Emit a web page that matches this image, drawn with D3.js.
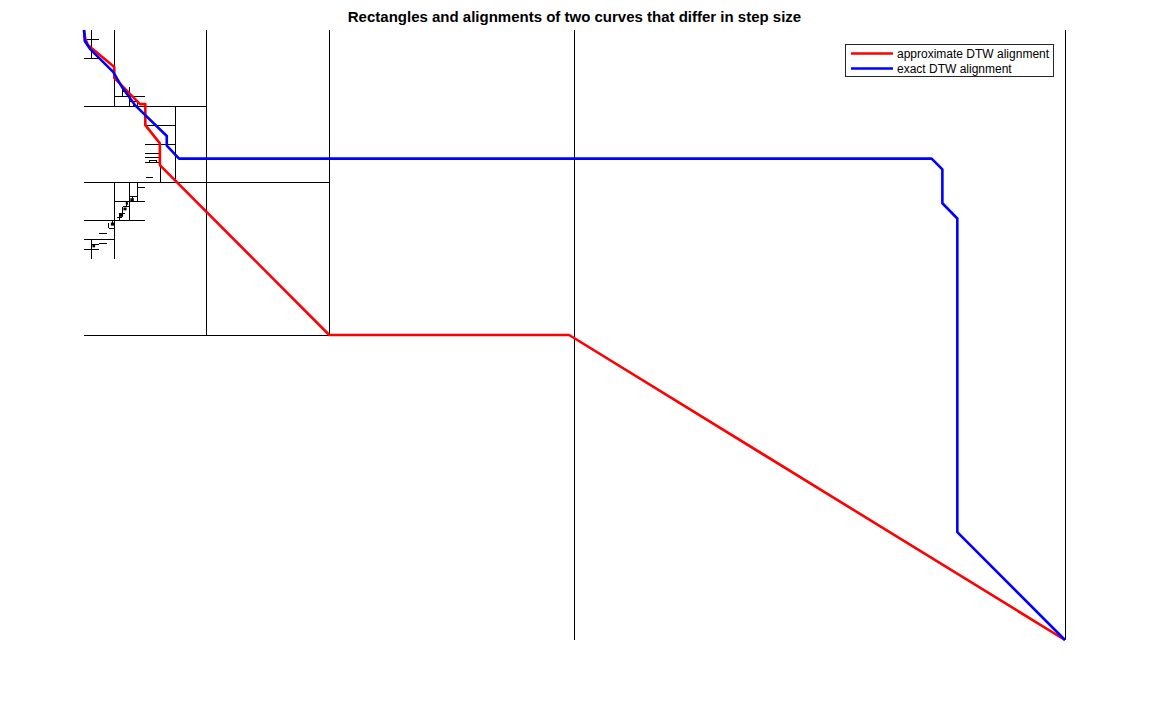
<!DOCTYPE html>
<html>
<head>
<meta charset="utf-8">
<script src="https://cdn.jsdelivr.net/npm/d3@7"></script>
<style>
  html, body { margin: 0; padding: 0; background: #fff; }
  svg { display: block; }
</style>
</head>
<body>
<script>
// ---- data (grid units; y grows downward like the reference) ----
const gridSize = [256, 256];

// approximate DTW alignment path
const approxX = [0, 0.3, 1, 7.9, 7.9, 14.6, 16, 16, 19.8, 19.8, 64, 126.6, 256];
const approxY = [0, 3.4, 6.3, 15.5, 20.1, 31.1, 31.1, 39.9, 47.6, 56.7, 128, 128, 256];

// exact DTW alignment path
const exactX = [0, 0.2, 1.6, 7.6, 9.9, 13.3, 21.6, 21.6, 24.8, 221.2, 224, 224, 227.9, 227.9, 256];
const exactY = [0, 4.6, 8.0, 17.6, 23.9, 31.5, 44.5, 48.5, 54.0, 54.0, 58.5, 72.7, 79.1, 210.7, 256];

// rectangle edges: [x1, y1, x2, y2]
const rectEdges = [
  [128, 0, 128, 256], [256, 0, 256, 256],
  [64, 0, 64, 128], [0, 128, 64, 128],
  [32, 0, 32, 128], [0, 64, 64, 64],
  [0, 32, 32, 32], [24, 32, 24, 64],
  [8, 0, 8, 32], [2, 0, 2, 12], [0, 4, 4, 4], [0, 12, 4, 12],
  [8, 28, 16, 28], [10, 24, 10, 28], [10, 26, 12, 26], [12, 24, 12, 32],
  [12, 30, 14, 30], [13, 30, 13, 32], [14, 30, 14, 32],
  [16, 40, 24, 40], [16, 48, 24, 48], [20, 48, 20, 64],
  [16, 52, 20, 52], [16, 53.6, 20, 53.6],
  [17.2, 54.6, 19, 54.6], [17.2, 54.6, 17.2, 55.6], [19, 54.6, 19, 55.6],
  [16, 55.6, 20, 55.6], [16.2, 62, 18, 62],
  [8, 64, 8, 96], [12, 64, 12, 80], [14, 64, 14, 72], [14, 66, 16, 66],
  [8, 72, 16, 72], [12, 70, 14, 70], [12.7, 70, 12.7, 72],
  [0, 80, 16, 80],
  [9.2, 76.9, 9.2, 80], [10.1, 74.1, 10.1, 76.9], [11.2, 72, 11.2, 74.1],
  [10.1, 74.1, 12, 74.1], [9.2, 76.9, 10.8, 76.9], [8.6, 78.8, 9.8, 78.8],
  [6.5, 81, 6.5, 83], [6.6, 83.2, 8, 83.2], [7.5, 80, 7.5, 82],
  [4, 85.3, 6, 85.3], [4, 89.8, 6, 89.8],
  [0, 88, 8, 88], [2, 88, 2, 96], [2, 90, 4, 90], [0, 92, 4, 92]
];

// tiny filled cells: [x, y, w, h]
const cells = [
  [12.1, 70.6, 0.9, 1.2], [10.3, 74.5, 0.8, 1.2], [9.4, 77.2, 0.8, 1.2],
  [7.0, 80.8, 0.9, 1.3], [2.2, 90.2, 0.7, 1.0], [10.9, 72.3, 0.6, 1.0]
];

const titleText = "Rectangles and alignments of two curves that differ in step size";
const seriesNames = ["approximate DTW alignment", "exact DTW alignment"];
const seriesColors = ["#ff0000", "#0000ff"];

// ---- drawing ----
const W = 1150, H = 702;
const svg = d3.select("body").append("svg").attr("width", W).attr("height", H);

const x = d3.scaleLinear().domain([0, gridSize[0]]).range([84, 1065]);
const y = d3.scaleLinear().domain([0, gridSize[1]]).range([30, 640]);

// rectangles
svg.append("g")
  .selectAll("line")
  .data(rectEdges)
  .join("line")
  .attr("x1", d => x(d[0])).attr("y1", d => y(d[1]))
  .attr("x2", d => x(d[2])).attr("y2", d => y(d[3]))
  .attr("stroke", "#000").attr("stroke-width", 1)
  .attr("shape-rendering", "crispEdges");

svg.append("g")
  .selectAll("rect")
  .data(cells)
  .join("rect")
  .attr("x", d => x(d[0])).attr("y", d => y(d[1]))
  .attr("width", d => x(d[0] + d[2]) - x(d[0]))
  .attr("height", d => y(d[1] + d[3]) - y(d[1]))
  .attr("fill", "#000");

const line = d3.line().x(d => x(d[0])).y(d => y(d[1]));
const paths = [
  d3.zip(approxX, approxY),
  d3.zip(exactX, exactY)
];
svg.append("g")
  .selectAll("path")
  .data(paths)
  .join("path")
  .attr("d", line)
  .attr("fill", "none")
  .attr("stroke", (d, i) => seriesColors[i])
  .attr("stroke-width", 2.6)
  .attr("stroke-linejoin", "round");

// title
svg.append("text")
  .attr("x", (x.range()[0] + x.range()[1]) / 2)
  .attr("y", 22)
  .attr("text-anchor", "middle")
  .attr("font-family", "Liberation Sans, Arial, sans-serif")
  .attr("font-weight", "bold")
  .attr("font-size", 15)
  .attr("fill", "#000")
  .text(titleText);

// legend
const lg = svg.append("g").attr("transform", "translate(845,44)");
lg.append("rect")
  .attr("x", 0.5).attr("y", 0.5).attr("width", 208).attr("height", 32)
  .attr("fill", "#fff").attr("stroke", "#262626").attr("stroke-width", 1);
seriesNames.forEach((name, i) => {
  const yy = 9.5 + i * 15;
  lg.append("line")
    .attr("x1", 6).attr("x2", 48).attr("y1", yy).attr("y2", yy)
    .attr("stroke", seriesColors[i]).attr("stroke-width", 2.6);
  lg.append("text")
    .attr("x", 52).attr("y", yy + 4)
    .attr("font-family", "Liberation Sans, Arial, sans-serif")
    .attr("font-size", 12)
    .attr("fill", "#000")
    .text(name);
});
</script>
</body>
</html>
